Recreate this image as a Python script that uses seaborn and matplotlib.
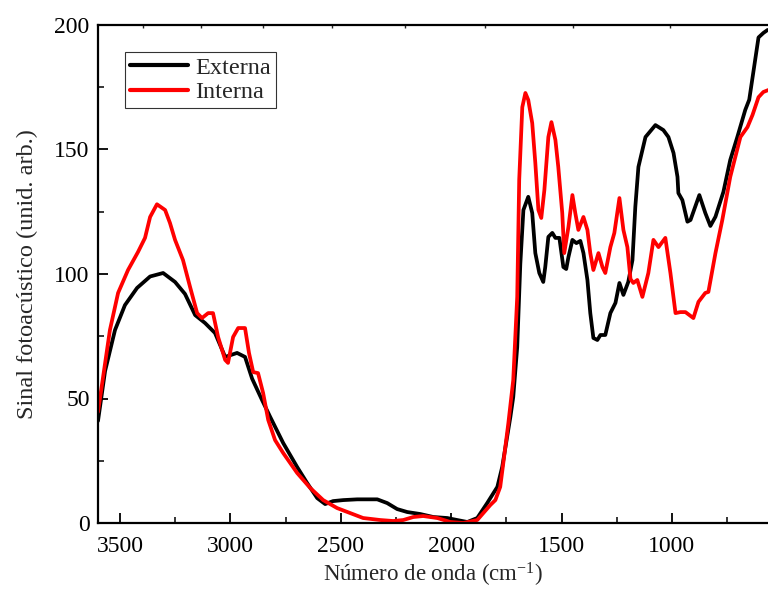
import numpy as np
import pandas as pd
import matplotlib
matplotlib.use("Agg")
import matplotlib.pyplot as plt
from matplotlib.ticker import MultipleLocator
import seaborn as sns

# ---- data ----
ext_wn = [3600, 3568, 3523, 3478, 3423, 3364, 3305, 3251, 3206, 3160, 3115, 3070, 3024, 2970,
          2934, 2902, 2857, 2820, 2761, 2698, 2653, 2607, 2571, 2535, 2489, 2426, 2335, 2290,
          2245, 2199, 2140, 2081, 2018, 1973, 1927, 1882, 1837, 1791, 1769, 1732, 1719, 1701,
          1687, 1673, 1651, 1633, 1619, 1601, 1583, 1574, 1560, 1542, 1528, 1510, 1492, 1479,
          1469, 1451, 1433, 1415, 1401, 1383, 1370, 1356, 1338, 1324, 1302, 1279, 1256, 1238,
          1220, 1198, 1179, 1166, 1152, 1120, 1075, 1039, 1016, 993, 975, 971, 953, 930, 916,
          876, 849, 826, 803, 767, 736, 704, 668, 650, 632, 608, 586, 567]
ext_val = [41, 61, 77.5, 87.5, 94.4, 99, 100.4, 96.8, 92, 83.5, 80.3, 76.3, 66.7, 68.3,
           66.7, 58, 49.4, 42.6, 32.1, 22.5, 16.1, 10, 7.6, 8.8, 9.2, 9.5, 9.5, 8,
           5.6, 4.4, 3.6, 2.4, 2, 1.2, 0.4, 2, 8, 14.5, 22.5, 42.6, 50.6, 70.7,
           104, 125.7, 131, 124.5, 108.4, 100.4, 96.8, 102.8, 114.9, 116.5, 114.5, 114.5, 102.8, 102,
           106.8, 113.7, 112.4, 113.3, 108.4, 97.6, 84.3, 74.3, 73.5, 75.5, 75.5, 84.3, 88.4, 96.4,
           91.6, 96.8, 105.6, 127, 143, 155, 159.8, 157.8, 155, 148.6, 139, 132.5, 129.7, 121, 121.7,
           131.7, 124.5, 119.3, 123, 133, 145.8, 155, 165.9, 170, 180.7, 195, 196.8, 198]

int_wn = [3600, 3577, 3546, 3509, 3464, 3419, 3387, 3364, 3333, 3296, 3274, 3251, 3215, 3183,
          3151, 3129, 3101, 3079, 3056, 3024, 3011, 2988, 2965, 2934, 2916, 2897, 2875, 2852,
          2829, 2798, 2761, 2698, 2639, 2580, 2517, 2458, 2399, 2322, 2263, 2217, 2172, 2127,
          2063, 2004, 1945, 1882, 1823, 1800, 1778, 1764, 1741, 1719, 1701, 1692, 1678, 1664,
          1651, 1633, 1619, 1605, 1592, 1578, 1560, 1546, 1528, 1515, 1497, 1488, 1469, 1451,
          1438, 1424, 1401, 1383, 1370, 1356, 1333, 1315, 1302, 1279, 1261, 1238, 1220, 1202,
          1188, 1175, 1157, 1134, 1107, 1084, 1061, 1030, 1007, 984, 962, 939, 903, 880, 849,
          835, 803, 772, 736, 690, 658, 635, 608, 586, 563]
int_val = [44.6, 58.6, 77.5, 92.4, 101.6, 108.8, 114.5, 122.9, 128, 125.7, 120.5, 113.7, 105.6, 94.8,
           84.3, 82.3, 84.3, 84.3, 74.7, 65.5, 64.3, 74.7, 78.3, 78.3, 68.3, 60.6, 60.2, 52.2,
           41.4, 33.3, 28.1, 20.1, 14.1, 9.2, 6, 4, 2, 1.2, 0.8, 1.2, 2.4, 2.8,
           2, 0.4, 0, 1.2, 7.2, 9.2, 14.5, 24.1, 40.2, 57.4, 90.8, 137.8, 167, 172.7,
           169.9, 160.6, 144.6, 125.7, 122.5, 133.7, 155, 161, 153.8, 143, 124.5, 108.4, 118.9, 131.7,
           124.5, 117.7, 122.9, 117.7, 108.4, 101.6, 108.4, 102.8, 100.4, 110.8, 116.5, 130.5, 117.7, 110.8,
           98, 96.4, 97.6, 90.8, 100.4, 113.7, 110.8, 114.5, 100.4, 84.3, 84.7, 84.7, 82.3, 88.8, 92.4,
           92.8, 108.4, 121.7, 139, 155, 159, 163.9, 171, 173.1, 173.9]

labels = ["Externa", "Interna"]
colors = ["#000000", "#ff0000"]

x_major = [3500, 3000, 2500, 2000, 1500, 1000]
y_major = [0, 50, 100, 150, 200]

# ---- style ----
sns.set_style("ticks")
plt.rcParams['font.family'] = ['Liberation Serif', 'DejaVu Serif']
plt.rcParams['mathtext.fontset'] = 'custom'
plt.rcParams['mathtext.rm'] = 'Liberation Serif'
plt.rcParams['mathtext.it'] = 'Liberation Serif:italic'

fig = plt.figure(figsize=(7.68, 5.92), dpi=100)
ax = fig.add_axes([98/768, 69/592, 670/768, 498/592])

df_ext = pd.DataFrame({"wn": ext_wn, "val": ext_val})
df_int = pd.DataFrame({"wn": int_wn, "val": int_val})
sns.lineplot(data=df_ext, x="wn", y="val", ax=ax, color=colors[0], lw=2.7,
             label=labels[0], sort=False, estimator=None)
sns.lineplot(data=df_int, x="wn", y="val", ax=ax, color=colors[1], lw=2.7,
             label=labels[1], sort=False, estimator=None)
for ln in ax.get_lines():
    ln.set_solid_joinstyle('round')
    ln.set_solid_capstyle('round')

ax.set_xlim(3600, 565)
ax.set_ylim(0, 200)
ax.set_xticks(x_major)
ax.set_yticks(y_major)
ax.xaxis.set_minor_locator(MultipleLocator(250))
ax.yaxis.set_minor_locator(MultipleLocator(25))

ax.tick_params(axis='both', which='major', direction='in', length=7, width=1.3,
               labelsize=17, colors='black')
ax.tick_params(axis='both', which='minor', direction='in', length=4, width=1.3)
ax.tick_params(axis='x', which='major', pad=9)
ax.tick_params(axis='y', which='major', pad=6)

for s in ['left', 'bottom', 'top']:
    ax.spines[s].set_linewidth(1.6)
    ax.spines[s].set_color('black')
ax.spines['right'].set_visible(False)

# small ticks along the top edge
top = ax.secondary_xaxis('top')
top.set_xticks([3396, 3133, 2852, 2539, 2208, 1846, 1447, 1007])
top.set_xticklabels([])
top.tick_params(direction='in', length=2, width=1.0)
top.spines['top'].set_linewidth(1.4)

ax.set_xlabel(r'Número de onda (cm$^{\mathregular{-1}}$)', fontsize=16.5, labelpad=3)
ax.set_ylabel('Sinal fotoacústico (unid. arb.)', fontsize=17.5, labelpad=12)

leg = ax.legend(loc='upper left', bbox_to_anchor=(0.040, 0.946), borderaxespad=0,
                fontsize=17.5, frameon=True, fancybox=False, handlelength=2.4,
                handletextpad=0.3, borderpad=0.2, labelspacing=0.1)
leg.get_frame().set_edgecolor('black')
leg.get_frame().set_linewidth(0.8)
for line in leg.get_lines():
    line.set_linewidth(3.0)

fig.savefig("out.png", dpi=100)
